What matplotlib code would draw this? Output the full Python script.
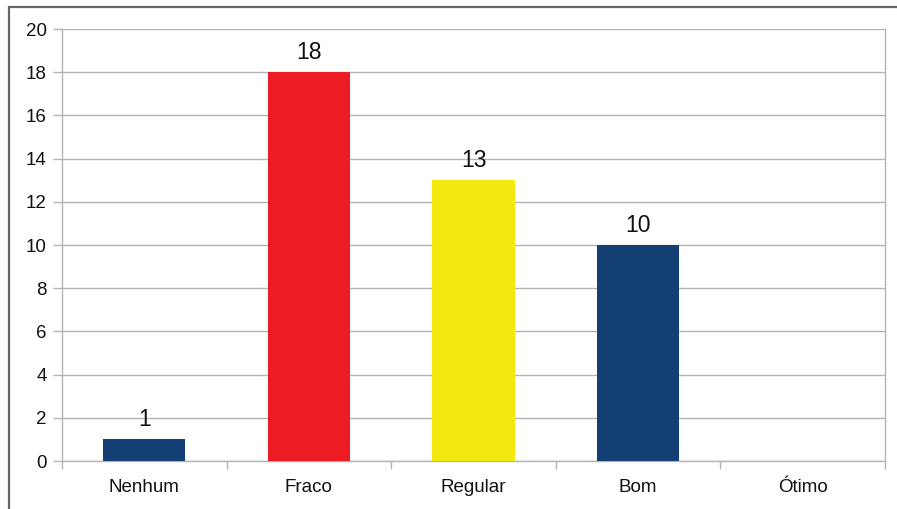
import matplotlib
matplotlib.use("Agg")
import matplotlib.pyplot as plt
from matplotlib.patches import Rectangle
from matplotlib.ticker import FixedLocator, MultipleLocator

categories = ["Nenhum", "Fraco", "Regular", "Bom", "Ótimo"]
values = [1, 18, 13, 10, 0]
colors = ["#133f75", "#ed1c24", "#f2e90f", "#133f75", "#133f75"]

plt.rcParams['font.family'] = ['Liberation Sans', 'DejaVu Sans']

W, H = 897, 509
fig = plt.figure(figsize=(W / 100, H / 100), dpi=100)
ax = fig.add_axes([62 / W, 1 - 461 / H, (885 - 62) / W, (461 - 29) / H])

x = list(range(len(categories)))
bars = ax.bar(x, values, width=0.5, color=colors, zorder=3)

for xi, v in zip(x, values):
    if v > 0:
        ax.annotate(str(v), (xi, v), xytext=(0, 9.5), textcoords='offset points',
                    ha='center', va='baseline', fontsize=16.5, color='#111111')

ax.set_xlim(-0.5, len(categories) - 0.5)
ax.set_ylim(0, 20)
ax.yaxis.set_major_locator(MultipleLocator(2))
ax.set_xticks(x)
ax.set_xticklabels(categories)
ax.xaxis.set_minor_locator(FixedLocator([i - 0.5 for i in range(len(categories) + 1)]))

grid_c = "#b3b3b3"
ax.grid(axis='y', color=grid_c, linewidth=1, zorder=0)
ax.tick_params(axis='x', which='major', length=0, pad=13, labelsize=13.5, labelcolor='#111111')
ax.tick_params(axis='x', which='minor', length=6, width=1, color=grid_c)
ax.tick_params(axis='y', length=6.5, width=1, color=grid_c, pad=4.5, labelsize=13.5, labelcolor='#111111')

for s in ['left', 'right', 'bottom']:
    ax.spines[s].set_color(grid_c)
    ax.spines[s].set_linewidth(1)
ax.spines['top'].set_visible(False)

# outer frame (left and top visible)
fig.patches.append(Rectangle((9 / W, -0.1), 1.2, 1.1 - 7 / H, transform=fig.transFigure,
                             fill=False, edgecolor='#666666', linewidth=1.6, zorder=10))

fig.savefig("out.png", dpi=100)
